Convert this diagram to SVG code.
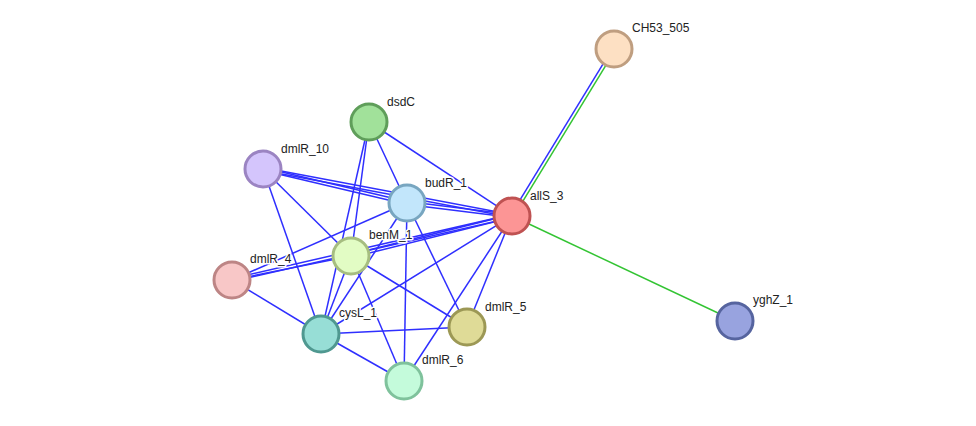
<svg xmlns="http://www.w3.org/2000/svg" width="976" height="426" viewBox="0 0 976 426">
<style>
.e{stroke:#2f2fff;stroke-width:1.5;fill:none}
.g{stroke:#33c433;stroke-width:1.5;fill:none}
.n{stroke-width:3}
.t{font-family:"Liberation Sans",Arial,sans-serif;font-size:12px;fill:#222;stroke:#ffffff;stroke-width:3;stroke-linejoin:round;paint-order:stroke fill}
</style>
<rect width="976" height="426" fill="#ffffff"/>
<g id="edges">
<line class="e" x1="612.7" y1="48.2" x2="510.7" y2="215.2"/>
<line class="g" x1="615.3" y1="49.8" x2="513.3" y2="216.8"/>
<line class="g" x1="512" y1="216" x2="735" y2="321"/>
<line class="e" x1="262.7" y1="167.5" x2="511.7" y2="214.5"/>
<line class="e" x1="263.3" y1="170.5" x2="512.3" y2="217.5"/>
<line class="e" x1="262.7" y1="167.5" x2="406.7" y2="201.5"/>
<line class="e" x1="263.3" y1="170.5" x2="407.3" y2="204.5"/>
<line class="e" x1="406.8" y1="201.5" x2="511.8" y2="214.5"/>
<line class="e" x1="407.2" y1="204.5" x2="512.2" y2="217.5"/>
<line class="e" x1="231.7" y1="278.5" x2="511.7" y2="214.5"/>
<line class="e" x1="232.3" y1="281.5" x2="512.3" y2="217.5"/>
<line class="e" x1="350.6" y1="254.5" x2="511.6" y2="214.5"/>
<line class="e" x1="351.4" y1="257.5" x2="512.4" y2="217.5"/>
<line class="e" x1="512" y1="216" x2="369" y2="122"/>
<line class="e" x1="512" y1="216" x2="321" y2="334"/>
<line class="e" x1="512" y1="216" x2="467" y2="327"/>
<line class="e" x1="512" y1="216" x2="404" y2="381"/>
<line class="e" x1="369" y1="122" x2="407" y2="203"/>
<line class="e" x1="369" y1="122" x2="351" y2="256"/>
<line class="e" x1="369" y1="122" x2="321" y2="334"/>
<line class="e" x1="263" y1="169" x2="351" y2="256"/>
<line class="e" x1="263" y1="169" x2="321" y2="334"/>
<line class="e" x1="407" y1="203" x2="232" y2="280"/>
<line class="e" x1="407" y1="203" x2="321" y2="334"/>
<line class="e" x1="407" y1="203" x2="467" y2="327"/>
<line class="e" x1="407" y1="203" x2="404" y2="381"/>
<line class="e" x1="351" y1="256" x2="232" y2="280"/>
<line class="e" x1="351" y1="256" x2="321" y2="334"/>
<line class="e" x1="351" y1="256" x2="467" y2="327"/>
<line class="e" x1="351" y1="256" x2="404" y2="381"/>
<line class="e" x1="232" y1="280" x2="321" y2="334"/>
<line class="e" x1="321" y1="334" x2="467" y2="327"/>
<line class="e" x1="321" y1="334" x2="404" y2="381"/>
</g>
<g id="CH53_505"><circle class="n" cx="614" cy="49" r="18" fill="#fde0c3" stroke="#bf9e80"/><text class="t" x="632" y="32">CH53_505</text></g>
<g id="dsdC"><circle class="n" cx="369" cy="122" r="18" fill="#a1e19a" stroke="#5f9e5a"/><text class="t" x="387" y="106">dsdC</text></g>
<g id="dmlR_10"><circle class="n" cx="263" cy="169" r="18" fill="#d4c5fc" stroke="#9b84c2"/><text class="t" x="281" y="153">dmlR_10</text></g>
<g id="budR_1"><circle class="n" cx="407" cy="203" r="18" fill="#c2e6fb" stroke="#78a6c0"/><text class="t" x="425" y="187">budR_1</text></g>
<g id="allS_3"><circle class="n" cx="512" cy="216" r="18" fill="#fc9595" stroke="#bf5252"/><text class="t" x="530" y="200">allS_3</text></g>
<g id="benM_1"><circle class="n" cx="351" cy="256" r="18" fill="#e2fcc4" stroke="#a6bd80"/><text class="t" x="369" y="239">benM_1</text></g>
<g id="dmlR_4"><circle class="n" cx="232" cy="280" r="18" fill="#f8c7c7" stroke="#bd8585"/><text class="t" x="250" y="263">dmlR_4</text></g>
<g id="cysL_1"><circle class="n" cx="321" cy="334" r="18" fill="#97ded6" stroke="#4f9890"/><text class="t" x="339" y="317">cysL_1</text></g>
<g id="dmlR_5"><circle class="n" cx="467" cy="327" r="18" fill="#dfdb97" stroke="#9c9855"/><text class="t" x="485" y="311">dmlR_5</text></g>
<g id="dmlR_6"><circle class="n" cx="404" cy="381" r="18" fill="#c4fbdb" stroke="#7fc29c"/><text class="t" x="422" y="364">dmlR_6</text></g>
<g id="yghZ_1"><circle class="n" cx="735" cy="321" r="18" fill="#98a3df" stroke="#56649f"/><text class="t" x="753" y="304">yghZ_1</text></g>
</svg>
